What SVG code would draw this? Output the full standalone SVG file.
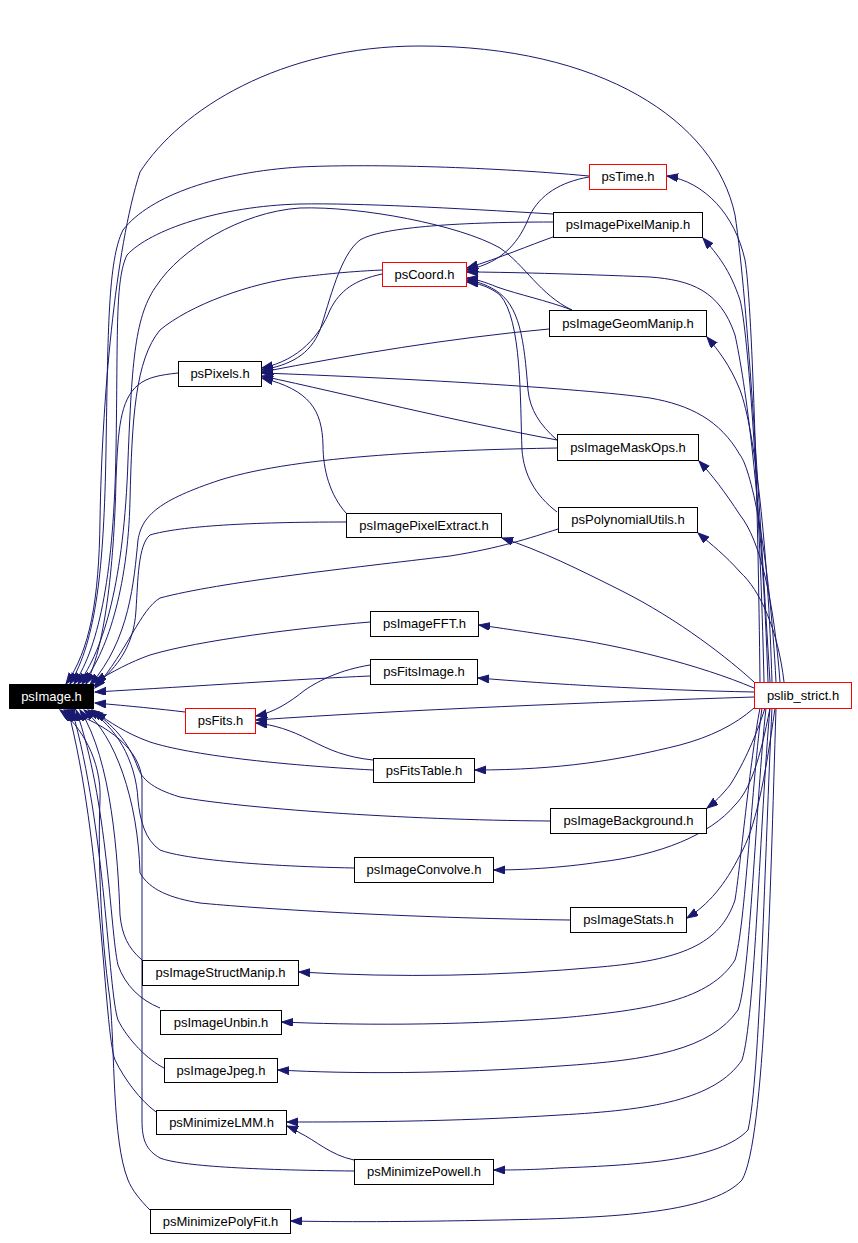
<svg xmlns="http://www.w3.org/2000/svg" width="858" height="1243" viewBox="0 0 858 1243">
<style>
.n rect{fill:#fff;stroke:#000;stroke-width:1}
.r rect{stroke:#ff0000}
.n text{font-family:"Liberation Sans",Arial,sans-serif;font-size:13px;text-anchor:middle;fill:#000}
#n_psImage rect{fill:#000;stroke:#000}
#n_psImage text{fill:#fff}
.e path{fill:none;stroke:#191970;stroke-width:1;marker-end:url(#ah)}
</style>
<defs>
<marker id="ah" markerUnits="userSpaceOnUse" markerWidth="12" markerHeight="9" refX="11" refY="4" orient="auto">
<path d="M0,0 L11,4 L0,8 z" fill="#191970" stroke="#191970" stroke-width="1"/>
</marker>
</defs>
<rect width="858" height="1243" fill="#fff"/>
<g id="edges" class="e">
<!-- into psImage.h from above -->
<path d="M770,682 C760,520 748,300 735,215 C715,120 600,46 420,46 C280,46 180,110 140,172 C115,250 102,400 100,520 C99,600 90,650 66,684"/>
<path d="M589,176 C480,166 360,164 300,167 C220,172 150,195 123,230 C108,260 108,330 106,450 C104,570 96,640 70,684"/>
<path d="M553,214 C450,208 360,203 300,204 C220,206 150,230 127,255 C115,280 118,330 116,450 C114,570 100,645 74,684"/>
<path d="M572,310 C540,295 525,265 500,248 C460,225 360,206 300,208 C240,212 180,250 157,285 C135,315 132,360 128,460 C124,580 104,650 78,684"/>
<path d="M382,270 C340,272 320,275 300,277 C250,283 190,305 160,330 C135,360 132,420 130,500 C128,590 106,655 82,684"/>
<path d="M178,373 C160,375 148,377 138,385 C120,400 118,430 116,480 C114,570 104,650 86,684"/>
<path d="M557,448 C450,450 300,455 220,480 C160,500 142,515 138,540 C134,580 130,640 90,685"/>
<path d="M346,522 C250,522 180,526 150,535 C138,545 138,580 136,610 C134,650 112,672 94,686"/>
<path d="M558,529 C530,538 500,548 450,556 C350,568 220,582 160,598 C140,610 128,650 95,688"/>
<path d="M370,622 C300,628 200,640 150,655 C130,662 112,672 95,682"/>
<path d="M370,676 C300,679 200,686 95,692"/>
<path d="M185,712 C160,709 130,706 95,703"/>
<path d="M373,770 C280,765 190,755 150,742 C125,733 110,722 95,712"/>
<!-- into psImage.h from below -->
<path d="M550,821 C400,820 240,808 180,797 C150,788 142,778 138,768 C128,740 112,725 92,710"/>
<path d="M354,868 C250,866 180,858 160,850 C145,840 140,820 138,800 C136,760 115,725 88,710"/>
<path d="M570,920 C400,918 250,908 200,903 C170,898 150,890 140,873 C138,800 115,735 84,710"/>
<path d="M142,960 C128,948 122,935 120,915 C118,860 112,760 80,710"/>
<path d="M160,1008 C140,1000 125,985 118,965 C110,930 108,800 76,710"/>
<path d="M164,1068 C148,1060 128,1040 118,1020 C108,990 106,830 72,710"/>
<path d="M156,1112 C140,1100 125,1080 115,1060 C104,1030 102,840 68,710"/>
<path d="M354,1171 C250,1170 180,1166 160,1158 C146,1150 142,1140 142,1120 L142,780 C140,750 110,725 64,710"/>
<path d="M150,1210 C140,1200 132,1190 128,1180 C112,1140 115,1050 110,1000 C100,930 98,850 100,800 C102,760 80,725 60,710"/>
<!-- pslib_strict up -->
<path d="M760,682 C758,500 752,300 745,260 C735,215 705,182 667,176"/>
<path d="M764,682 C760,500 748,330 740,300 C730,270 718,255 703,238"/>
<path d="M768,682 C762,500 745,380 735,335 C720,290 690,280 650,277 C580,274 500,272 467,272"/>
<path d="M772,682 C768,550 755,430 740,390 C730,365 718,350 707,337"/>
<path d="M776,682 C770,560 752,470 740,455 C720,420 690,405 650,398 C580,388 400,378 262,373"/>
<path d="M780,682 C774,600 760,540 740,515 C725,492 712,475 699,461"/>
<path d="M784,682 C778,630 760,590 740,572 C725,555 712,545 698,533"/>
<path d="M754,682 C730,660 680,620 620,590 C580,570 540,550 502,538"/>
<path d="M754,688 C700,665 620,645 560,637 C520,631 500,628 479,625"/>
<path d="M754,692 C650,690 550,684 478,678"/>
<path d="M754,697 C600,702 400,710 256,720"/>
<path d="M754,708 C735,725 710,737 680,745 C620,760 560,770 475,770"/>
<!-- pslib_strict down -->
<path d="M765,708 C755,740 740,770 730,785 C722,795 715,802 707,808"/>
<path d="M770,708 C760,760 750,790 735,805 C710,835 660,855 600,862 C560,868 520,870 494,870"/>
<path d="M775,708 C765,780 755,830 740,855 C725,885 708,905 687,918"/>
<path d="M760,708 C750,760 740,870 735,900 C720,945 680,960 600,967 C500,976 400,978 299,972"/>
<path d="M762,708 C752,780 745,930 735,960 C710,1000 650,1010 560,1018 C450,1026 350,1025 282,1022"/>
<path d="M766,708 C756,800 750,980 738,1010 C710,1050 650,1060 560,1066 C450,1074 350,1074 278,1070"/>
<path d="M770,708 C760,820 755,1020 742,1060 C715,1100 650,1110 560,1115 C450,1122 350,1122 287,1122"/>
<path d="M772,708 C765,850 760,1080 748,1130 C720,1160 640,1165 560,1168 C530,1170 510,1170 494,1170"/>
<path d="M776,708 C770,900 765,1140 742,1180 C710,1215 600,1218 500,1220 C400,1222 340,1222 291,1221"/>
<!-- into psCoord.h -->
<path d="M589,177 C560,182 540,195 530,215 C520,240 505,262 467,270"/>
<path d="M553,237 C530,245 500,258 467,268"/>
<path d="M572,310 C545,300 520,295 497,287 C485,282 475,279 467,278"/>
<path d="M557,440 C540,425 530,410 528,390 C524,340 520,305 495,290 C485,284 475,281 467,280"/>
<path d="M557,512 C535,495 524,475 522,450 C520,400 522,320 500,295 C490,287 478,283 467,282"/>
<!-- into psPixels.h -->
<path d="M382,274 C355,280 340,290 330,310 C320,335 300,360 262,368"/>
<path d="M553,222 C450,222 380,228 360,240 C340,255 330,300 320,330 C310,355 290,365 262,370"/>
<path d="M549,329 C450,338 350,355 262,372"/>
<path d="M557,440 C450,420 350,395 262,376"/>
<path d="M346,513 C330,495 323,470 323,445 C322,410 310,390 262,378"/>
<!-- into psFits.h -->
<path d="M370,665 C340,670 320,680 305,690 C290,702 275,712 256,716"/>
<path d="M373,760 C345,757 330,750 310,740 C290,730 275,725 256,723"/>
<!-- into psMinimizeLMM.h -->
<path d="M354,1160 C330,1155 315,1140 300,1133 C295,1130 292,1128 287,1126"/>
</g>
<g id="n_psImage" class="n"><rect x="9.5" y="684.5" width="84" height="24"/><text x="51.5" y="701">psImage.h</text></g>
<g id="n_pslib_strict" class="n r"><rect x="754.5" y="682.5" width="97" height="26"/><text x="803" y="700">pslib_strict.h</text></g>
<g id="n_psTime" class="n r"><rect x="589.5" y="164.5" width="77" height="25"/><text x="628" y="181">psTime.h</text></g>
<g id="n_psImagePixelManip" class="n"><rect x="553.5" y="212.5" width="149" height="25"/><text x="628" y="229">psImagePixelManip.h</text></g>
<g id="n_psCoord" class="n r"><rect x="382.5" y="262.5" width="84" height="24"/><text x="424.5" y="279">psCoord.h</text></g>
<g id="n_psImageGeomManip" class="n"><rect x="549.5" y="310.5" width="157" height="26"/><text x="628" y="328">psImageGeomManip.h</text></g>
<g id="n_psPixels" class="n"><rect x="178.5" y="361.5" width="83" height="25"/><text x="220" y="378">psPixels.h</text></g>
<g id="n_psImageMaskOps" class="n"><rect x="557.5" y="434.5" width="141" height="26"/><text x="628" y="452">psImageMaskOps.h</text></g>
<g id="n_psPolynomialUtils" class="n"><rect x="558.5" y="507.5" width="139" height="25"/><text x="628" y="524">psPolynomialUtils.h</text></g>
<g id="n_psImagePixelExtract" class="n"><rect x="346.5" y="513.5" width="155" height="24"/><text x="424" y="530">psImagePixelExtract.h</text></g>
<g id="n_psImageFFT" class="n"><rect x="370.5" y="611.5" width="108" height="25"/><text x="424.5" y="628">psImageFFT.h</text></g>
<g id="n_psFitsImage" class="n"><rect x="370.5" y="659.5" width="107" height="25"/><text x="424" y="676">psFitsImage.h</text></g>
<g id="n_psFits" class="n r"><rect x="185.5" y="708.5" width="70" height="25"/><text x="220.5" y="725">psFits.h</text></g>
<g id="n_psFitsTable" class="n"><rect x="373.5" y="758.5" width="101" height="24"/><text x="424" y="775">psFitsTable.h</text></g>
<g id="n_psImageBackground" class="n"><rect x="550.5" y="808.5" width="156" height="25"/><text x="628.5" y="825">psImageBackground.h</text></g>
<g id="n_psImageConvolve" class="n"><rect x="354.5" y="857.5" width="139" height="25"/><text x="424" y="874">psImageConvolve.h</text></g>
<g id="n_psImageStats" class="n"><rect x="570.5" y="907.5" width="116" height="25"/><text x="628.5" y="924">psImageStats.h</text></g>
<g id="n_psImageStructManip" class="n"><rect x="142.5" y="960.5" width="156" height="25"/><text x="220.5" y="977">psImageStructManip.h</text></g>
<g id="n_psImageUnbin" class="n"><rect x="160.5" y="1010.5" width="121" height="24"/><text x="221" y="1027">psImageUnbin.h</text></g>
<g id="n_psImageJpeg" class="n"><rect x="164.5" y="1058.5" width="113" height="24"/><text x="221" y="1075">psImageJpeg.h</text></g>
<g id="n_psMinimizeLMM" class="n"><rect x="156.5" y="1110.5" width="130" height="24"/><text x="221.5" y="1127">psMinimizeLMM.h</text></g>
<g id="n_psMinimizePowell" class="n"><rect x="354.5" y="1159.5" width="139" height="25"/><text x="424" y="1176">psMinimizePowell.h</text></g>
<g id="n_psMinimizePolyFit" class="n"><rect x="150.5" y="1209.5" width="140" height="24"/><text x="220.5" y="1226">psMinimizePolyFit.h</text></g>
</svg>
